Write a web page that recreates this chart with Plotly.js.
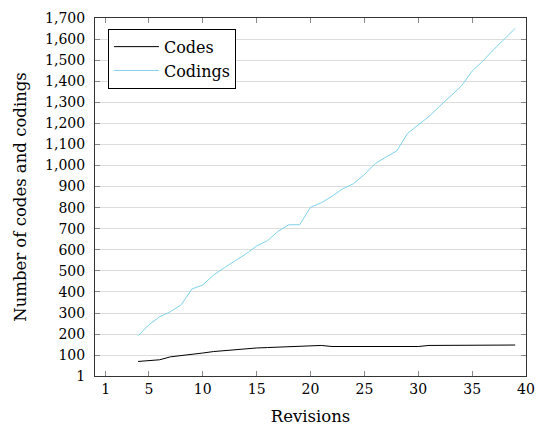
<!DOCTYPE html>
<html>
<head>
<meta charset="utf-8">
<script src="https://cdn.plot.ly/plotly-3.0.1.min.js"></script>
<style>html,body{margin:0;padding:0;background:#fff;}#chart{width:536px;height:430px;}</style>
</head>
<body>
<div id="chart"></div>
<script>
const revisions = [4,5,6,7,8,9,10,11,12,13,14,15,16,17,18,19,20,21,22,23,24,25,26,27,28,29,30,31,32,33,34,35,36,37,38,39];
const codes = [70,75,78,92,97,105,110,117,122,127,130,134,136,138,140,143,146,146,141,141,142,141,141,141,141,141,141,146,146,146,147,147,147,148,148,148];
const codings = [192,244,282,306,339,414,433,480,515,547,580,618,643,688,719,719,802,823,854,890,914,957,1009,1040,1069,1152,1192,1233,1282,1330,1377,1448,1496,1550,1600,1651];
const xTicks = [1,5,10,15,20,25,30,35,40];
const yTicks = [1,100,200,300,400,500,600,700,800,900,1000,1100,1200,1300,1400,1500,1600,1700];

const fam = "'DejaVu Serif', 'Liberation Serif', serif";
const font = {family: fam, size: 14, color: '#000'};
const titleFont = {family: fam, size: 16.5, color: '#000'};

const traces = [
  {x: revisions, y: codes, name: 'Codes', mode: 'lines', line: {color: '#000000', width: 1}},
  {x: revisions, y: codings, name: 'Codings', mode: 'lines', line: {color: '#80d2ea', width: 1}}
];

const layout = {
  width: 536, height: 430,
  margin: {l: 95, r: 10, t: 18, b: 54},
  paper_bgcolor: '#fff', plot_bgcolor: '#fff',
  font: font,
  showlegend: true,
  legend: {
    x: 0.03, y: 0.97, xanchor: 'left', yanchor: 'top',
    bgcolor: '#fff', bordercolor: '#000', borderwidth: 1,
    font: {family: fam, size: 16, color: '#000'},
    tracegroupgap: 0, itemwidth: 45
  },
  xaxis: {
    range: [0, 40], tickmode: 'array', tickvals: xTicks,
    ticks: 'inside', ticklen: 5, tickcolor: '#888', tickwidth: 1,
    showline: true, linecolor: '#333', linewidth: 1, mirror: 'ticks',
    showgrid: false, zeroline: false,
    tickfont: font,
    title: {text: 'Revisions', font: titleFont, standoff: 14}
  },
  yaxis: {
    range: [1, 1700], tickmode: 'array', tickvals: yTicks, tickformat: ',',
    ticks: 'inside', ticklen: 5, tickcolor: '#888', tickwidth: 1,
    showline: true, linecolor: '#333', linewidth: 1, mirror: 'ticks',
    showgrid: true, gridcolor: '#dddddd', gridwidth: 1, zeroline: false,
    ticklabelstandoff: 6,
    tickfont: font,
    title: {text: 'Number of codes and codings', font: titleFont, standoff: 14}
  }
};

Plotly.newPlot('chart', traces, layout, {displayModeBar: false, staticPlot: true});
</script>
</body>
</html>
